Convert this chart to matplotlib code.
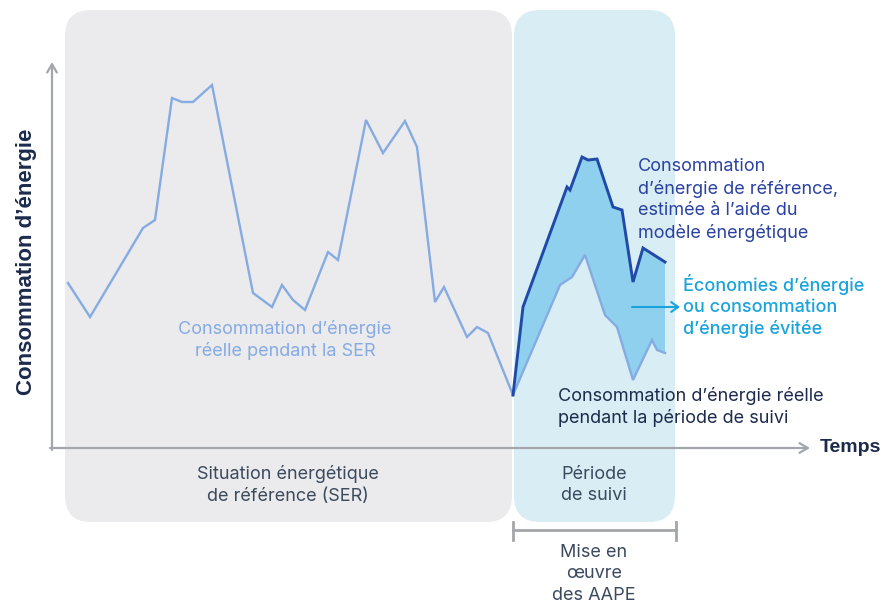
import numpy as np
import matplotlib
matplotlib.use("Agg")
import matplotlib.pyplot as plt
from matplotlib.patches import FancyBboxPatch

plt.rcParams["font.family"] = ["Inter", "DejaVu Sans"]

# time / energy values (arbitrary units, origin at the axes corner)
t_ser = [16, 38, 91, 103, 120, 130, 141, 160, 201, 220, 230, 241, 253, 276,
         286, 314, 331, 353, 365, 383, 392, 415, 425, 436, 461]
e_ser = [165, 131, 220, 228, 350, 346, 346, 363, 155, 141, 163, 148, 138, 196,
         188, 328, 295, 327, 301, 146, 161, 111, 121, 115, 53]

t_ref = [461, 471, 515, 518, 530, 536, 545, 561, 570, 581, 591, 613]
e_ref = [53, 141, 261, 258, 291, 288, 289, 241, 238, 166, 200, 186]

t_act = [461, 508, 520, 533, 553, 565, 581, 600, 605, 613]
e_act = [53, 163, 171, 193, 133, 121, 68, 108, 98, 95]

ser_span = (13, 460)
suivi_span = (462, 623)

LIGHT = "#86abe2"
DARK = "#1f4aa8"
FILL = "#8fd0ef"
CYAN = "#1ba3dc"
NAVY = "#1c2a4c"
GREY_TXT = "#3c4a5e"
AXIS = "#a3a6aa"

fig = plt.figure(figsize=(8.93, 6.09), dpi=100)
ax = fig.add_axes([0, 0, 1, 1])
ax.set_xlim(-52, 841)
ax.set_ylim(-161, 448)
ax.axis("off")

# background panels
top, bottom = 438, -74
for (x0, x1), col in [(ser_span, "#ebebed"), (suivi_span, "#d9edf4")]:
    ax.add_patch(FancyBboxPatch((x0, bottom), x1 - x0, top - bottom,
                                boxstyle="round,pad=0,rounding_size=26",
                                fc=col, ec="none", zorder=0))

# axes arrows
ax.annotate("", xy=(0, 386), xytext=(0, -2),
            arrowprops=dict(arrowstyle="->,head_length=0.6,head_width=0.35",
                            color=AXIS, lw=1.6, shrinkA=0, shrinkB=0), zorder=2)
ax.annotate("", xy=(758, 0), xytext=(-2, 0),
            arrowprops=dict(arrowstyle="->,head_length=0.6,head_width=0.35",
                            color=AXIS, lw=1.6, shrinkA=0, shrinkB=0), zorder=2)

# savings area
ax.fill(np.concatenate([t_ref, t_act[::-1]]),
        np.concatenate([e_ref, e_act[::-1]]), color=FILL, lw=0, zorder=3)

ax.plot(t_ser, e_ser, color=LIGHT, lw=1.7, zorder=4, solid_joinstyle="miter")
ax.plot(t_act, e_act, color=LIGHT, lw=1.7, zorder=4, solid_joinstyle="miter")
ax.plot(t_ref, e_ref, color=DARK, lw=2.1, zorder=5, solid_joinstyle="miter")

# bracket under follow-up period
ax.plot([suivi_span[0] - 1, suivi_span[1] + 1], [-82, -82], color=AXIS, lw=2)
for xe in (suivi_span[0] - 1, suivi_span[1] + 1):
    ax.plot([xe, xe], [-74, -92], color=AXIS, lw=2)

# cyan arrow
ax.annotate("", xy=(628, 141), xytext=(580, 141),
            arrowprops=dict(arrowstyle="->,head_length=0.5,head_width=0.35",
                            color=CYAN, lw=1.5, shrinkA=0, shrinkB=0), zorder=6)

fs = 13
ls = 1.32
ax.text(233, 108, "Consommation d’énergie\nréelle pendant la SER",
        color=LIGHT, fontsize=fs, ha="center", va="center", linespacing=ls)
ax.text(586, 248, "Consommation\nd’énergie de référence,\nestimée à l’aide du\nmodèle énergétique",
        color="#2a42a0", fontsize=fs, ha="left", va="center", linespacing=ls)
ax.text(631, 142, "Économies d’énergie\nou consommation\nd’énergie évitée",
        color=CYAN, fontsize=fs, ha="left", va="center", linespacing=ls,
        fontweight="medium")
ax.text(506, 41, "Consommation d’énergie réelle\npendant la période de suivi",
        color=NAVY, fontsize=fs, ha="left", va="center", linespacing=ls)
ax.text(236, -37, "Situation énergétique\nde référence (SER)",
        color=GREY_TXT, fontsize=fs, ha="center", va="center", linespacing=ls)
ax.text(542, -37, "Période\nde suivi",
        color=GREY_TXT, fontsize=fs, ha="center", va="center", linespacing=ls)
ax.text(542, -126, "Mise en\nœuvre\ndes AAPE",
        color=GREY_TXT, fontsize=fs, ha="center", va="center", linespacing=ls)
ax.text(768, 0, "Temps", color=NAVY, fontsize=14, fontweight="bold",
        ha="left", va="center", family=["Liberation Sans", "DejaVu Sans"])
ax.text(-25, 186, "Consommation d’énergie", color=NAVY, fontsize=16,
        fontweight="bold", ha="center", va="center", rotation=90,
        family=["Liberation Sans", "DejaVu Sans"])

fig.savefig("out.png", dpi=100)
